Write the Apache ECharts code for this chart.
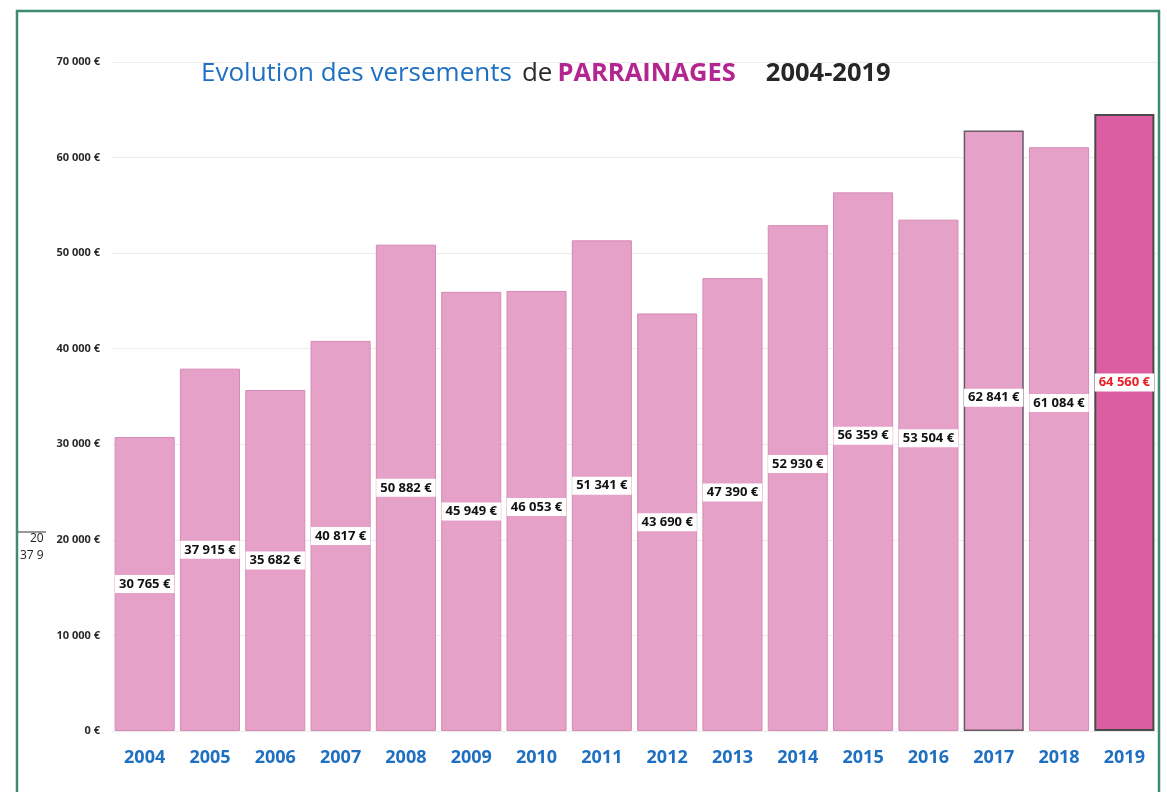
<!DOCTYPE html>
<html><head><meta charset="utf-8">
<script src="https://cdn.jsdelivr.net/npm/echarts@6/dist/echarts.min.js"></script>
<style>html,body{margin:0;padding:0;background:#fff}#c{width:1167px;height:792px}</style>
</head><body><div id="c"></div>
<script>
const years = ['2004','2005','2006','2007','2008','2009','2010','2011','2012','2013','2014','2015','2016','2017','2018','2019'];
const amounts = [30765,37915,35682,40817,50882,45949,46053,51341,43690,47390,52930,56359,53504,62841,61084,64560];
const yTicks = [0,10000,20000,30000,40000,50000,60000,70000];
// vertical nudge of each value label (px), as placed in the original
const labelShift = [0,0,0,0,0,0,-4,0,0,-12,-14,-26,-37,-33,-36,-40];

function fmt(v){ return String(v).replace(/\B(?=(\d{3})+(?!\d))/g,' ') + ' €'; }

const chart = echarts.init(document.getElementById('c'));
const last = years.length - 1;
const data = amounts.map((v,i)=>{
  const item = {value:v, label:{offset:[0,labelShift[i]]}};
  if (i === last) {
    item.itemStyle = {color:'#dc5ea2', borderColor:'#4a4a4a', borderWidth:2};
    item.label.color = '#e8202a';
  } else if (i === 13) {
    item.itemStyle = {borderColor:'#6b5a66', borderWidth:1.5};
  }
  return item;
});

chart.setOption({
  animation:false,
  backgroundColor:'#fff',
  title:{
    text:'{a|Evolution des versements}  {b|de} {c|PARRAINAGES}      {d|2004-2019}',
    left:196, top:56,
    textStyle:{rich:{
      a:{fontFamily:'Open Sans',fontSize:26,fontWeight:'normal',color:'#1f6fc2'},
      b:{fontFamily:'Open Sans',fontSize:26,fontWeight:'normal',color:'#2a2a2a'},
      c:{fontFamily:'Open Sans',fontSize:25.5,fontWeight:'bold',color:'#b3258f'},
      d:{fontFamily:'Open Sans',fontSize:25.5,fontWeight:'bold',color:'#262626'}
    }}
  },
  grid:{left:112, right:10, top:62, bottom:61, containLabel:false},
  xAxis:{
    type:'category', data:years,
    axisLine:{show:false}, axisTick:{show:false},
    axisLabel:{color:'#1f6fc2', fontWeight:'bold', fontSize:18, fontFamily:'Open Sans', margin:18}
  },
  yAxis:{
    type:'value', min:0, max:70000, interval:10000,
    axisLine:{show:false}, axisTick:{show:false},
    splitLine:{lineStyle:{color:'#ececec', width:1}},
    axisLabel:{
      color:'#2a2a2a', fontWeight:'bold', fontSize:11, fontFamily:'Open Sans', margin:12,
      formatter:v=> yTicks.includes(v) ? fmt(v) : ''
    }
  },
  series:[{
    type:'bar', data:data, barWidth:'92%',
    itemStyle:{color:'#e6a1c8', borderColor:'#d68ab6', borderWidth:1},
    label:{
      show:true, position:'inside', formatter:p=>fmt(p.value),
      color:'#111', fontWeight:'bold', fontSize:13, fontFamily:'Open Sans',
      backgroundColor:'#fff', padding:[3,4,2,4]
    }
  }],
  graphic:[
    {type:'rect', shape:{x:17, y:11, width:1142, height:800}, style:{fill:'none', stroke:'#3f8a74', lineWidth:2.5}, silent:true},
    {type:'line', shape:{x1:18, y1:532, x2:46, y2:532}, style:{stroke:'#333', lineWidth:1}},
    {type:'text', left:30, top:533, style:{text:'20', fill:'#222', font:'12px "Open Sans"'}},
    {type:'text', left:20, top:550, style:{text:'37 9', fill:'#222', font:'12px "Open Sans"'}}
  ]
});
</script></body></html>
